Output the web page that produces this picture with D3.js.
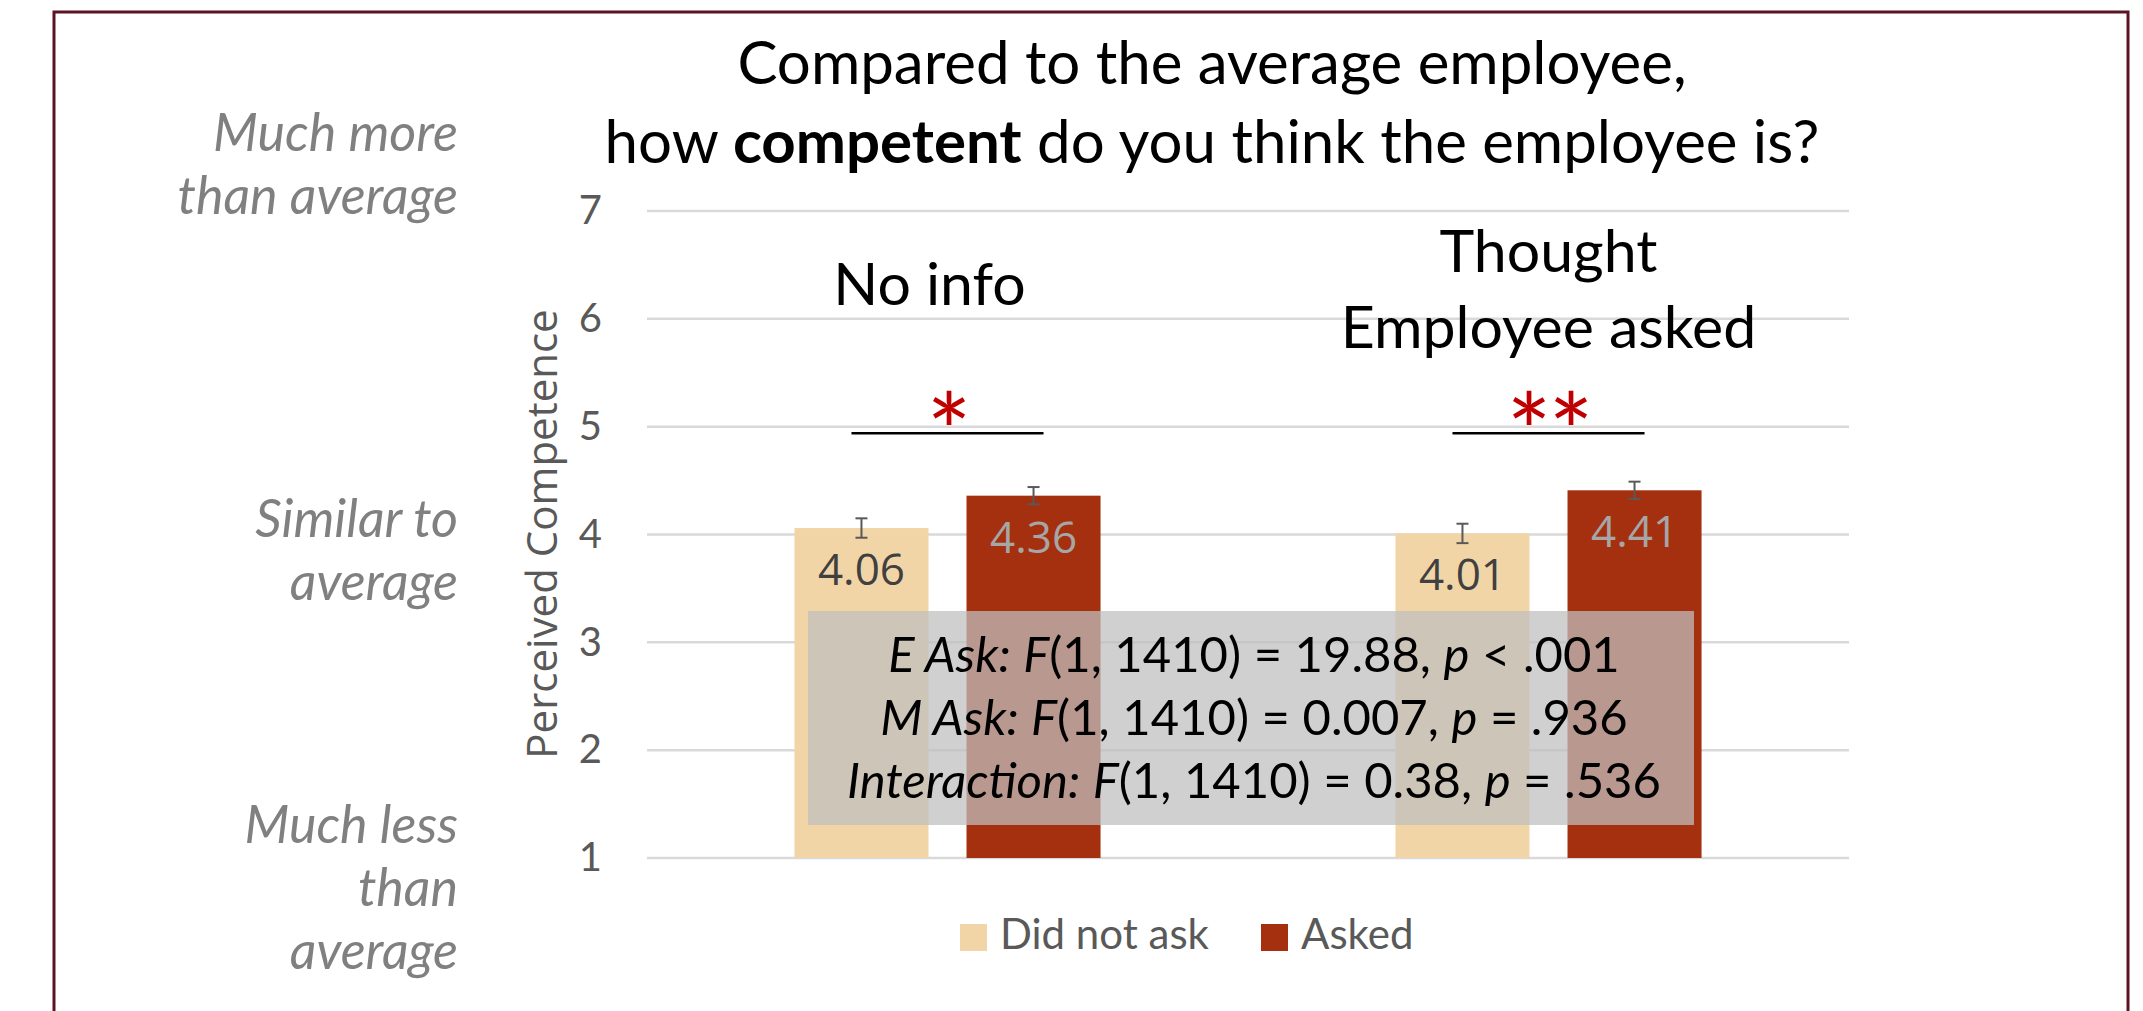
<!DOCTYPE html>
<html>
<head>
<meta charset="utf-8">
<script src="https://cdn.jsdelivr.net/npm/d3@7"></script>
<style>
  body { margin: 0; background: #fff; }
  svg { display: block; }
</style>
</head>
<body>
<div id="chart"></div>
<script>
// Data
const categories = ["No info", "Thought Employee asked"];
const categoryLines = [["No info"], ["Thought", "Employee asked"]];
const seriesNames = ["Did not ask", "Asked"];
const didNotAsk = [4.06, 4.01];
const asked = [4.36, 4.41];
const errDidNotAsk = [0.09, 0.09];
const errAsked = [0.08, 0.08];
const yTicks = [1, 2, 3, 4, 5, 6, 7];
const sigMarks = ["*", "**"];
const sigLevel = 4.94;
const scaleAnchors = [
  { value: 7, lines: ["Much more", "than average"] },
  { value: 4, lines: ["Similar to", "average"] },
  { value: 1, lines: ["Much less", "than", "average"] }
];
const statLines = [
  [["E Ask:", true], [" ", false], ["F", true], ["(1, 1410) = 19.88, ", false], ["p", true], [" < .001", false]],
  [["M Ask:", true], [" ", false], ["F", true], ["(1, 1410) = 0.007, ", false], ["p", true], [" = .936", false]],
  [["Interaction:", true], [" ", false], ["F", true], ["(1, 1410) = 0.38, ", false], ["p", true], [" = .536", false]]
];

const colors = { "Did not ask": "#F2D5A6", "Asked": "#A5300F" };
const labelColors = { "Did not ask": "#404040", "Asked": "#A6A6A6" };
const calibri = "Lato, 'Noto Sans', sans-serif";
const segoe = "'Open Sans', 'Noto Sans', sans-serif";

const W = 2143, H = 1011;
const plot = { left: 647, right: 1849, top: 211, bottom: 858 };

const svg = d3.select("#chart")
  .append("svg")
  .attr("width", W)
  .attr("height", H);

svg.append("rect").attr("width", W).attr("height", H).attr("fill", "#fff");

// Frame
svg.append("rect")
  .attr("x", 54).attr("y", 12)
  .attr("width", 2074).attr("height", 1100)
  .attr("fill", "none")
  .attr("stroke", "#5c1425")
  .attr("stroke-width", 3);

// Scales
const x0 = d3.scaleBand()
  .domain(categories)
  .range([plot.left, plot.right])
  .padding(0);

const x1 = d3.scaleBand()
  .domain(seriesNames)
  .range([0, x0.bandwidth()])
  .paddingInner(0.221)
  .paddingOuter(0.857);

const y = d3.scaleLinear()
  .domain([1, 7])
  .range([plot.bottom, plot.top]);

// Gridlines
svg.append("g")
  .selectAll("line")
  .data(yTicks)
  .enter()
  .append("line")
  .attr("x1", plot.left)
  .attr("x2", plot.right)
  .attr("y1", d => y(d))
  .attr("y2", d => y(d))
  .attr("stroke", "#d9d9d9")
  .attr("stroke-width", 2.5);

// Y axis tick labels
const yAxis = svg.append("g")
  .attr("transform", `translate(${plot.left},0)`)
  .call(d3.axisLeft(y).tickValues(yTicks).tickSize(0).tickPadding(45).tickFormat(d3.format("d")));
yAxis.select(".domain").remove();
yAxis.selectAll("text")
  .style("font-family", calibri)
  .style("font-size", "40px")
  .attr("fill", "#595959");

// Y axis title
svg.append("text")
  .attr("transform", `translate(557, 534) rotate(-90)`)
  .attr("text-anchor", "middle")
  .style("font-family", segoe)
  .style("font-size", "42px")
  .attr("fill", "#595959")
  .text("Perceived Competence");

// Bars
const rows = categories.map((c, i) => [
  { cat: c, series: "Did not ask", value: didNotAsk[i], err: errDidNotAsk[i] },
  { cat: c, series: "Asked", value: asked[i], err: errAsked[i] }
]);
const flat = rows.flat();

const groups = svg.append("g")
  .selectAll("g")
  .data(rows)
  .enter()
  .append("g")
  .attr("transform", d => `translate(${x0(d[0].cat)},0)`);

groups.selectAll("rect")
  .data(d => d)
  .enter()
  .append("rect")
  .attr("x", d => x1(d.series))
  .attr("y", d => y(d.value))
  .attr("width", x1.bandwidth())
  .attr("height", d => y(1) - y(d.value))
  .attr("fill", d => colors[d.series]);

// Error bars
const cx = d => x0(d.cat) + x1(d.series) + x1.bandwidth() / 2;
const errG = svg.append("g")
  .attr("stroke", "#595959")
  .attr("stroke-width", 2);

errG.selectAll(".ev")
  .data(flat)
  .enter()
  .append("line")
  .attr("x1", cx).attr("x2", cx)
  .attr("y1", d => y(d.value + d.err))
  .attr("y2", d => y(d.value - d.err));

errG.selectAll(".ct")
  .data(flat)
  .enter()
  .append("line")
  .attr("x1", d => cx(d) - 6).attr("x2", d => cx(d) + 6)
  .attr("y1", d => y(d.value + d.err))
  .attr("y2", d => y(d.value + d.err));

errG.selectAll(".cb")
  .data(flat)
  .enter()
  .append("line")
  .attr("x1", d => cx(d) - 6).attr("x2", d => cx(d) + 6)
  .attr("y1", d => y(d.value - d.err))
  .attr("y2", d => y(d.value - d.err));

// Value labels
svg.append("g")
  .selectAll("text")
  .data(flat)
  .enter()
  .append("text")
  .attr("x", cx)
  .attr("y", d => y(d.value) + 57)
  .attr("text-anchor", "middle")
  .style("font-family", segoe)
  .style("font-size", "44px")
  .attr("fill", d => labelColors[d.series])
  .text(d => d.value.toFixed(2));

// Significance lines and stars
const sig = svg.append("g");
rows.forEach((r, i) => {
  const a = cx(r[0]) - 10, b = cx(r[1]) + 10;
  sig.append("line")
    .attr("x1", a).attr("x2", b)
    .attr("y1", y(sigLevel)).attr("y2", y(sigLevel))
    .attr("stroke", "#000")
    .attr("stroke-width", 2.5);
  sig.append("text")
    .attr("x", (a + b) / 2)
    .attr("y", y(sigLevel) + 38)
    .attr("text-anchor", "middle")
    .style("font-family", calibri)
    .style("font-size", "106px")
    .style("letter-spacing", "-3px")
    .attr("fill", "#C00000")
    .text(sigMarks[i]);
});

// Category labels
const catOffsets = [-18, 0];
categoryLines.forEach((lines, i) => {
  const cxC = x0(categories[i]) + x0.bandwidth() / 2 + catOffsets[i];
  const first = lines.length === 1 ? 305 : 272;
  const t = svg.append("text")
    .attr("text-anchor", "middle")
    .style("font-family", calibri)
    .style("font-size", "59px")
    .attr("fill", "#000");
  lines.forEach((ln, j) => {
    t.append("tspan").attr("x", cxC).attr("y", first + j * 76).text(ln);
  });
});

// Stats box (semi-transparent, over bars)
svg.append("rect")
  .attr("x", 808).attr("y", 611)
  .attr("width", 886).attr("height", 214)
  .attr("fill", "rgb(191,191,191)")
  .attr("fill-opacity", 0.73);

const statT = svg.append("text")
  .attr("text-anchor", "middle")
  .style("font-family", calibri)
  .style("font-size", "49px")
  .attr("fill", "#000");
statLines.forEach((parts, i) => {
  const line = statT.append("tspan").attr("x", 1254).attr("y", 672 + i * 63);
  parts.forEach(([txt, it], k) => {
    const sp = k === 0 ? line : statT.append("tspan");
    if (k === 0) {
      sp.append("tspan").style("font-style", it ? "italic" : "normal").text(txt);
    } else {
      sp.style("font-style", it ? "italic" : "normal").text(txt);
    }
  });
});

// Title
const title = svg.append("text")
  .attr("text-anchor", "middle")
  .style("font-family", calibri)
  .style("font-size", "60px")
  .attr("fill", "#000");
title.append("tspan").attr("x", 1212).attr("y", 84).text("Compared to the average employee,");
const t2 = title.append("tspan").attr("x", 1212).attr("y", 163);
t2.append("tspan").text("how ");
t2.append("tspan").style("font-weight", "bold").text("competent");
t2.append("tspan").text(" do you think the employee is?");

// Left scale anchors
const anchorOffsets = { 7: -60, 4: 2, 1: -15 };
scaleAnchors.forEach(a => {
  const base = y(a.value) + anchorOffsets[a.value];
  const t = svg.append("text")
    .attr("text-anchor", "end")
    .style("font-family", calibri)
    .style("font-style", "italic")
    .style("font-size", "52px")
    .attr("fill", "#808080");
  a.lines.forEach((ln, j) => {
    t.append("tspan").attr("x", 458).attr("y", base + j * 63).text(ln);
  });
});

// Legend
const legendX = [960, 1261];
const legend = svg.append("g")
  .selectAll("g")
  .data(seriesNames)
  .enter()
  .append("g")
  .attr("transform", (d, i) => `translate(${legendX[i]}, 924)`);
legend.append("rect")
  .attr("width", 27).attr("height", 27)
  .attr("fill", d => colors[d]);
legend.append("text")
  .attr("x", 40).attr("y", 25)
  .style("font-family", calibri)
  .style("font-size", "42px")
  .attr("fill", "#595959")
  .text(d => d);
</script>
</body>
</html>
